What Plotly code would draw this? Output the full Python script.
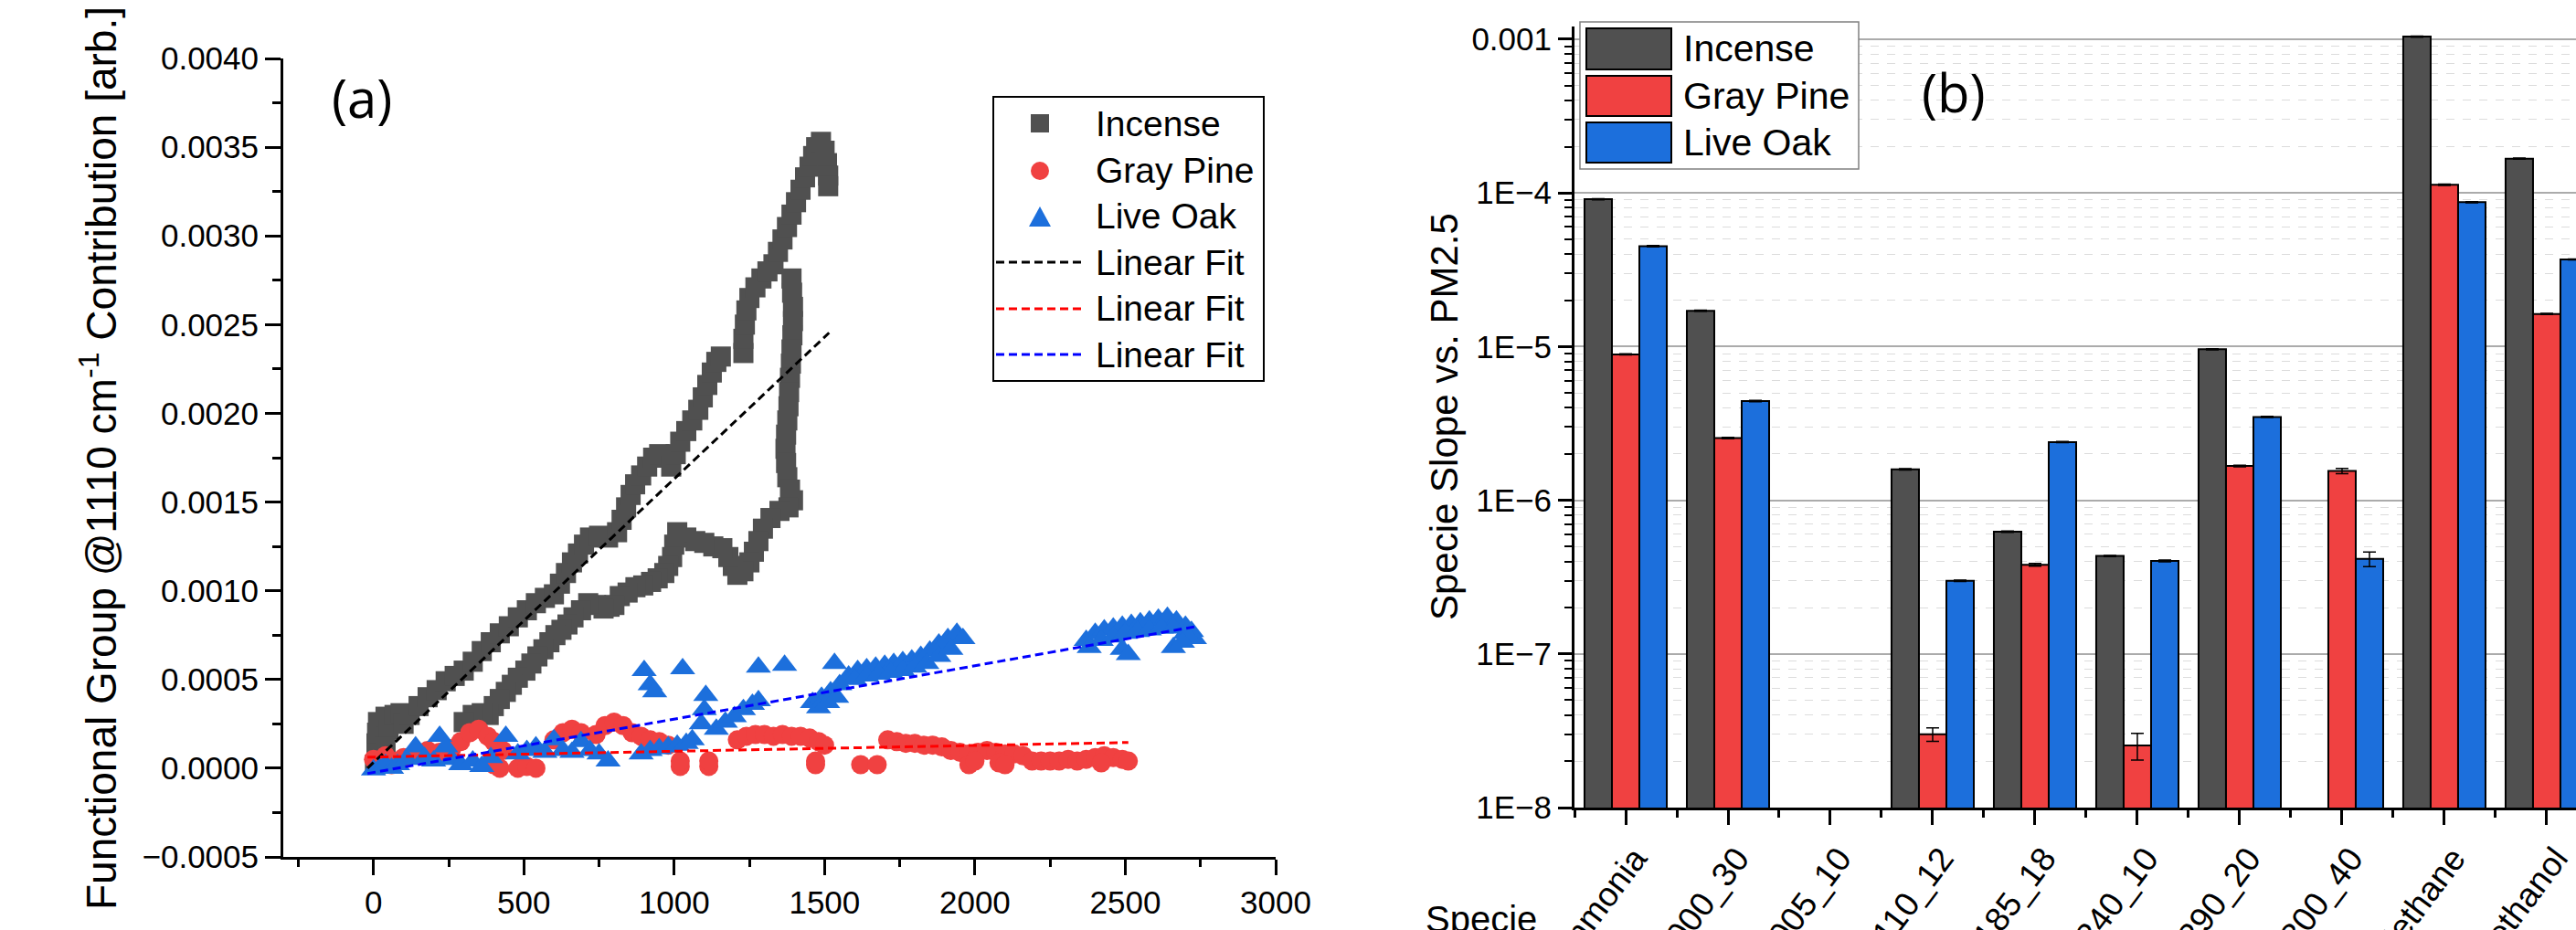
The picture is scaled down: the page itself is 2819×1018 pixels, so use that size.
import plotly.graph_objects as go

W, H = 2819, 1018


def px(x):
    return x / W


def py(y):
    return 1 - y / H


# ---------------- panel (a): functional group vs PM2.5 ----------------
incense_x = [5, 10, 10, 12, 15, 40, 50, 40, 70, 90, 100,
             120, 150, 180, 210, 240, 270, 300, 330, 360, 390, 420, 450, 480, 510, 540, 570, 600,
             620, 640, 660, 680, 700, 720, 750, 780,
             810, 825, 840, 855, 870, 890, 910, 930, 950,
             990, 1005, 1020, 1040, 1060, 1080, 1095, 1110, 1125, 1140, 1155,
             1230, 1230, 1235, 1240, 1250, 1270, 1290, 1310, 1330,
             1345, 1360, 1375, 1390, 1405, 1420, 1435, 1450, 1462, 1472, 1488, 1500, 1508, 1512, 1512,
             1390, 1392, 1395, 1395, 1393, 1390, 1388, 1385, 1382, 1380, 1376, 1372, 1370, 1372, 1376, 1385, 1395,
             1380, 1350, 1320, 1295, 1280, 1265, 1250, 1230, 1210, 1195, 1180, 1160, 1130, 1100, 1070, 1040,
             1010, 1000, 993, 980, 967, 945, 923, 897, 871, 845, 819, 801,
             785, 765, 740, 714, 690, 665, 645, 625, 605, 585, 565, 545, 525, 505, 480, 460, 440, 420,
             400, 383, 360, 330, 300]
incense_y = [0.00002, 0.00008, 0.00014, 0.00020, 0.00026, 0.00029, 0.00022, 0.00012, 0.00030, 0.00031, 0.00025,
             0.00030, 0.00035, 0.00040, 0.00044, 0.00049, 0.00052, 0.00055, 0.00060, 0.00066, 0.00071, 0.00076,
             0.00080, 0.00085, 0.00089, 0.00093, 0.00096, 0.00098,
             0.00104, 0.00110, 0.00116, 0.00121, 0.00126, 0.00130, 0.00131, 0.00130,
             0.00133, 0.00140, 0.00147, 0.00154, 0.00160, 0.00165, 0.00170, 0.00175, 0.00177,
             0.00170, 0.00177, 0.00184, 0.00190, 0.00196, 0.00202, 0.00209, 0.00216, 0.00223, 0.00229, 0.00232,
             0.00234, 0.00242, 0.00250, 0.00258, 0.00265, 0.00271, 0.00276, 0.00280, 0.00284,
             0.00291, 0.00298, 0.00305, 0.00312, 0.00319, 0.00326, 0.00333, 0.00339, 0.00345, 0.00350,
             0.00353, 0.00348, 0.00341, 0.00334, 0.00328,
             0.00276, 0.00268, 0.00260, 0.00252, 0.00244, 0.00236, 0.00228, 0.00220, 0.00212, 0.00204,
             0.00196, 0.00188, 0.00180, 0.00172, 0.00164, 0.00157, 0.00151,
             0.00147, 0.00145, 0.00141, 0.00135, 0.00128, 0.00122, 0.00116, 0.00111, 0.00109, 0.00114,
             0.00119, 0.00124, 0.00125, 0.00127, 0.00128, 0.00130,
             0.00133, 0.00126, 0.00119, 0.00114, 0.00110, 0.00107, 0.00105, 0.00103, 0.00102, 0.00099,
             0.00097, 0.00092,
             0.00091, 0.00090, 0.00092, 0.00093, 0.00089, 0.00085, 0.00081, 0.00078, 0.00075, 0.00071,
             0.00067, 0.00063, 0.00059, 0.00055, 0.00051, 0.00047, 0.00043, 0.00039,
             0.00035, 0.00030, 0.00031, 0.00030, 0.00026]

graypine_x = [0, 20, 40, 60, 80, 100, 140, 180, 220, 260,
              290, 320, 350, 380, 400, 430,
              400, 420, 480, 510, 540,
              600, 630, 660, 690, 740, 770, 800, 830,
              860, 890, 920, 950, 980,
              1020, 1020, 1115, 1115,
              1210, 1240, 1270, 1300, 1330, 1360, 1390, 1420, 1450, 1480, 1500,
              1470, 1470, 1620, 1675,
              1710, 1740, 1770, 1800, 1830, 1860, 1890,
              1920, 1950, 1980, 2010, 2040, 2070, 2100, 2130, 2160,
              1980, 2000, 2080, 2100,
              2190, 2220, 2250, 2280, 2310, 2340, 2370, 2400, 2430, 2460, 2490, 2510, 2420]
graypine_y = [0.00005, 0.00003, 0.00007, 0.00002, 0.00004, 0.00006, 0.00008, 0.00010, 0.00009, 0.00011,
              0.00015, 0.00020, 0.00022, 0.00018, 0.00015, 0.00010,
              0.00002, 0.00000, 0.00000, 0.00001, 0.00000,
              0.00016, 0.00020, 0.00022, 0.00020, 0.00019, 0.00024, 0.00026, 0.00024,
              0.00020, 0.00018, 0.00016, 0.00015, 0.00013,
              0.00001, 0.00004, 0.00001, 0.00004,
              0.00016, 0.00018, 0.00019, 0.00019, 0.00018, 0.00019, 0.00018, 0.00018, 0.00017, 0.00015, 0.00013,
              0.00002, 0.00004, 0.00002, 0.00002,
              0.00016, 0.00015, 0.00014, 0.00014, 0.00013, 0.00013, 0.00012,
              0.00010, 0.00009, 0.00008, 0.00009, 0.00010, 0.00009, 0.00008, 0.00008, 0.00007,
              0.00002, 0.00004, 0.00003, 0.00002,
              0.00004, 0.00004, 0.00004, 0.00004, 0.00005, 0.00004, 0.00005, 0.00006, 0.00007, 0.00006,
              0.00005, 0.00004, 0.00003]

liveoak_x = [0, 20, 40, 60, 80, 110, 140, 170, 200, 220, 240, 260,
             290, 330, 360, 390, 440,
             480, 510, 540, 570, 600, 630, 660, 690, 720, 750, 780,
             900, 920, 935, 1028, 1280, 1367, 1533,
             890, 920, 950, 980, 1010, 1040, 1060,
             1090, 1100, 1105,
             1140, 1170, 1200, 1230, 1260, 1280,
             1460, 1490, 1520, 1550, 1480, 1510, 1540,
             1580, 1610, 1640, 1670, 1700, 1730, 1760, 1790, 1820, 1850, 1880, 1910, 1940, 1960,
             1600, 1640, 1680, 1720, 1760, 1800, 1840, 1880, 1920,
             2370, 2400, 2430, 2460, 2490, 2520, 2550, 2580, 2610, 2640, 2670, 2700, 2720, 2730,
             2380, 2420, 2460, 2500, 2540, 2580, 2620, 2660, 2700,
             2490, 2510, 2660, 2690]
liveoak_y = [-0.00001, 0.00000, 0.00002, 0.00000, 0.00002, 0.00005, 0.00012, 0.00006, 0.00004, 0.00018,
             0.00012, 0.00005,
             0.00002, 0.00004, 0.00001, 0.00006, 0.00018,
             0.00008, 0.00010, 0.00012, 0.00009, 0.00016, 0.00010, 0.00009, 0.00015, 0.00010, 0.00008, 0.00004,
             0.00055, 0.00047, 0.00043, 0.00056, 0.00057, 0.00058, 0.00059,
             0.00008, 0.00010, 0.00011, 0.00012, 0.00013, 0.00014, 0.00016,
             0.00025, 0.00033, 0.00041,
             0.00022, 0.00026, 0.00029, 0.00033, 0.00036, 0.00038,
             0.00037, 0.00040, 0.00043, 0.00047, 0.00034, 0.00037, 0.00040,
             0.00052, 0.00055, 0.00056, 0.00057, 0.00058, 0.00059, 0.00060, 0.00061, 0.00063, 0.00066,
             0.00070, 0.00073, 0.00076, 0.00073,
             0.00050, 0.00052, 0.00053, 0.00054, 0.00055, 0.00057, 0.00059, 0.00063, 0.00067,
             0.00072, 0.00076, 0.00078, 0.00079, 0.00080, 0.00081, 0.00082, 0.00083, 0.00084, 0.00085,
             0.00083, 0.00080, 0.00077, 0.00073,
             0.00068, 0.00072, 0.00074, 0.00076, 0.00077, 0.00078, 0.00079, 0.00079, 0.00076,
             0.00067, 0.00064, 0.00068, 0.00071]

# linear fit end points
fit_incense_x = [-20, 1515]
fit_incense_y = [0.0, 0.002454]
fit_graypine_x = [-20, 2510]
fit_graypine_y = [0.000062, 0.000145]
fit_liveoak_x = [-20, 2740]
fit_liveoak_y = [-0.000030, 0.000800]

# grid positions (inner ticks only)
grid_x = [0, 500, 1000, 1500, 2000, 2500]
grid_y = [0.0, 0.0005, 0.0010, 0.0015, 0.0020, 0.0025, 0.0030, 0.0035]

# ---------------- panel (b): specie slope vs PM2.5 ----------------
species = ["Ammonia", "1000_30", "1005_10", "1110_12", "1185_18", "1240_10",
           "1290_20", "1300_40", "Methane", "Methanol"]
incense_slope = [9.1e-5, 1.71e-5, None, 1.59e-6, 6.24e-7, 4.34e-7, 9.6e-6, None, 1.04e-3, 1.67e-4]
graypine_slope = [8.9e-6, 2.54e-6, None, 3.0e-8, 3.8e-7, 2.54e-8, 1.67e-6, 1.55e-6, 1.13e-4, 1.63e-5]
liveoak_slope = [4.5e-5, 4.42e-6, None, 2.99e-7, 2.39e-6, 4.03e-7, 3.48e-6, 4.15e-7, 8.7e-5, 3.69e-5]
incense_err = [8e-7, 1.5e-7, None, 1.5e-8, 6e-9, 4e-9, 8e-8, None, 1e-5, 1.5e-6]
graypine_err = [8e-8, 3e-8, None, 3e-9, 8e-9, 5e-9, 2e-8, 6e-8, 1e-6, 1.5e-7]
liveoak_err = [4e-7, 4e-8, None, 3e-9, 2e-8, 5e-9, 3e-8, 4.5e-8, 8e-7, 3e-7]

INC = "#505050"
GP = "#F04141"
LO = "#1C6FDC"
FONT = "Arial, Liberation Sans, sans-serif"

fig = go.Figure()

fig.add_trace(go.Scatter(x=incense_x, y=incense_y, mode="markers", name="Incense",
                         marker=dict(symbol="square", size=22, color=INC),
                         xaxis="x", yaxis="y", showlegend=False))
fig.add_trace(go.Scatter(x=graypine_x, y=graypine_y, mode="markers", name="Gray Pine",
                         marker=dict(symbol="circle", size=21, color=GP),
                         xaxis="x", yaxis="y", showlegend=False))
fig.add_trace(go.Scatter(x=liveoak_x, y=liveoak_y, mode="markers", name="Live Oak",
                         marker=dict(symbol="triangle-up", size=24, color=LO),
                         xaxis="x", yaxis="y", showlegend=False))

DASH = "9px,5px"
for fx, fy, col in [(fit_incense_x, fit_incense_y, "black"),
                    (fit_graypine_x, fit_graypine_y, "#FF0000"),
                    (fit_liveoak_x, fit_liveoak_y, "#0000FF")]:
    fig.add_trace(go.Scatter(x=fx, y=fy, mode="lines", name="Linear Fit",
                             line=dict(color=col, width=3, dash=DASH),
                             xaxis="x", yaxis="y", showlegend=False))

idx = list(range(len(species)))
for vals, errs, col, grp in [(incense_slope, incense_err, INC, "1"),
                             (graypine_slope, graypine_err, GP, "2"),
                             (liveoak_slope, liveoak_err, LO, "3")]:
    fig.add_trace(go.Bar(x=idx, y=vals, offsetgroup=grp,
                         marker=dict(color=col, line=dict(color="black", width=2)),
                         error_y=dict(type="data", array=errs, color="black", thickness=1.5, width=7),
                         xaxis="x2", yaxis="y2", showlegend=False))

axis_common = dict(showline=True, linewidth=3, linecolor="black", ticks="outside",
                   tickcolor="black", tickwidth=3, zeroline=False, automargin=False)

minor_log = [k * 10.0 ** e for e in range(-8, -2) for k in range(2, 10)]
XA = [px(310), px(1396)]
YA = [py(938), py(64)]

fig.update_layout(
    width=W, height=H, margin=dict(l=0, r=0, t=0, b=0, autoexpand=False),
    paper_bgcolor="white", plot_bgcolor="white",
    barmode="group", bargap=0.196, bargroupgap=0,
    xaxis=dict(domain=XA, range=[-300, 3000], anchor="y",
               tickmode="linear", tick0=0, dtick=500, ticklen=17,
               minor=dict(tick0=0, dtick=250, ticklen=8, tickwidth=3, tickcolor="black", ticks="outside"),
               showgrid=False, tickfont=dict(family=FONT, size=35, color="black"),
               **axis_common),
    yaxis=dict(domain=YA, range=[-0.0005, 0.0040], anchor="x",
               tickmode="linear", tick0=0, dtick=0.0005, tickformat=".4f", ticklen=17,
               minor=dict(tick0=0, dtick=0.00025, ticklen=9, tickwidth=3, tickcolor="black", ticks="outside"),
               showgrid=False, tickfont=dict(family=FONT, size=35, color="black"),
               **axis_common),
    # overlay axes carrying only the dashed grid inside panel (a)
    xaxis3=dict(domain=XA, range=[-300, 3000], anchor="y", overlaying="x",
                tickmode="array", tickvals=grid_x, showticklabels=False, ticks="",
                showline=False, zeroline=False, automargin=False,
                showgrid=True, gridcolor="#9A9A9A", gridwidth=1, griddash="dash"),
    yaxis3=dict(domain=YA, range=[-0.0005, 0.0040], anchor="x", overlaying="y",
                tickmode="array", tickvals=grid_y, showticklabels=False, ticks="",
                showline=False, zeroline=False, automargin=False,
                showgrid=True, gridcolor="#9A9A9A", gridwidth=1, griddash="dash"),
    xaxis2=dict(domain=[px(1723), 1.0], range=[-0.5, 9.286], anchor="y2",
                tickmode="array", tickvals=idx, ticktext=species, tickangle=-53, ticklen=16,
                ticklabelshift=10, ticklabeloverflow="allow",
                minor=dict(tickmode="array", tickvals=[i - 0.5 for i in range(len(species) + 1)],
                           ticklen=8, tickwidth=3, tickcolor="black", ticks="outside"),
                showgrid=False, tickfont=dict(family=FONT, size=37, color="black"),
                **axis_common),
    yaxis2=dict(type="log", domain=[py(884), py(29)], range=[-8, -2.917], anchor="x2",
                tickmode="array", tickvals=[1e-8, 1e-7, 1e-6, 1e-5, 1e-4, 1e-3],
                ticktext=["1E\u22128", "1E\u22127", "1E\u22126", "1E\u22125", "1E\u22124", "0.001"],
                ticklen=15, showgrid=True, gridcolor="#ABABAB", gridwidth=1.5,
                minor=dict(tickmode="array", tickvals=minor_log, ticklen=8, tickwidth=2,
                           tickcolor="black", ticks="outside", showgrid=True,
                           gridcolor="#DCDCDC", griddash="dash", gridwidth=1),
                tickfont=dict(family=FONT, size=35, color="black"),
                **axis_common),
)

annotations = [
    dict(text="(a)", x=px(396), y=py(107), font=dict(family="Open Sans", size=58, color="black")),
    dict(text="(b)", x=px(2138), y=py(100), font=dict(family="Open Sans", size=58, color="black")),
    dict(text="Functional Group @1110 cm<sup>-1</sup> Contribution [arb.]", x=px(108), y=py(502),
         textangle=-90, font=dict(family=FONT, size=46, color="black")),
    dict(text="Specie Slope vs. PM2.5", x=px(1580), y=py(456), textangle=-90,
         font=dict(family=FONT, size=42, color="black")),
    dict(text="Specie", x=px(1558), y=py(1006), xanchor="left", yanchor="middle",
         font=dict(family=FONT, size=40, color="black")),
]
for a in annotations:
    a.setdefault("xanchor", "center")
    a.setdefault("yanchor", "middle")
    a.update(xref="paper", yref="paper", showarrow=False)

shapes = []

# legend of panel (a)
shapes.append(dict(type="rect", x0=px(1087), x1=px(1383), y0=py(417), y1=py(106),
                   line=dict(color="black", width=2), fillcolor="white"))
shapes.append(dict(type="rect", x0=px(1128), x1=px(1148), y0=py(145), y1=py(125),
                   line=dict(width=0), fillcolor=INC))
shapes.append(dict(type="circle", x0=px(1128), x1=px(1148), y0=py(197), y1=py(177),
                   line=dict(width=0), fillcolor=GP))
shapes.append(dict(type="path",
                   path=f"M {px(1126)} {py(248)} L {px(1150)} {py(248)} L {px(1138)} {py(226)} Z",
                   line=dict(width=0), fillcolor=LO))
for yy, col in [(287, "black"), (338, "#FF0000"), (388, "#0000FF")]:
    shapes.append(dict(type="line", x0=px(1090), x1=px(1185), y0=py(yy), y1=py(yy),
                       line=dict(color=col, width=3, dash=DASH)))
for yy, txt in [(135, "Incense"), (187, "Gray Pine"), (237, "Live Oak"),
                (287, "Linear Fit"), (338, "Linear Fit"), (388, "Linear Fit")]:
    annotations.append(dict(text=txt, x=px(1197), y=py(yy), xanchor="left", yanchor="middle",
                            xref="paper", yref="paper", showarrow=False,
                            font=dict(family=FONT, size=39, color="black")))

# legend of panel (b)
shapes.append(dict(type="rect", x0=px(1729), x1=px(2034), y0=py(185), y1=py(24),
                   line=dict(color="#808080", width=1.5), fillcolor="white"))
for (y0, y1), col, txt in [((31, 76), INC, "Incense"), ((83, 127), GP, "Gray Pine"),
                           ((134, 178), LO, "Live Oak")]:
    shapes.append(dict(type="rect", x0=px(1736), x1=px(1829), y0=py(y1), y1=py(y0),
                       line=dict(color="black", width=2), fillcolor=col))
    annotations.append(dict(text=txt, x=px(1840), y=py((y0 + y1) / 2), xanchor="left", yanchor="middle",
                            xref="paper", yref="paper", showarrow=False,
                            font=dict(family=FONT, size=41, color="black")))

for s in shapes:
    s.update(xref="paper", yref="paper", layer="above")

fig.update_layout(shapes=shapes, annotations=annotations)

fig.write_html("out.html")
